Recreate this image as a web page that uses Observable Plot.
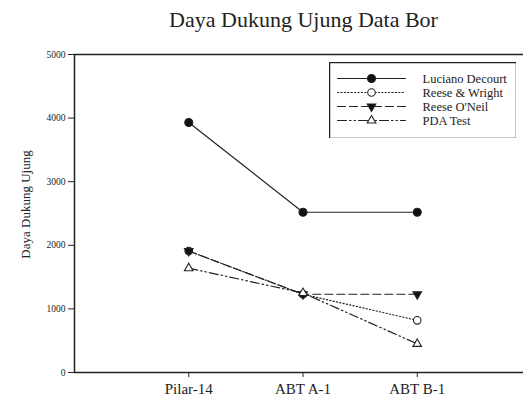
<!DOCTYPE html>
<html>
<head>
<meta charset="utf-8">
<script src="https://cdn.jsdelivr.net/npm/d3@7"></script>
<script src="https://cdn.jsdelivr.net/npm/@observablehq/plot@0.6"></script>
<style>
  html, body { margin: 0; padding: 0; background: #fff; overflow: hidden; width: 523px; height: 401px; }
  #wrap { position: relative; width: 523px; height: 401px; overflow: hidden; font-family: "Liberation Serif", "DejaVu Serif", serif; color: #222; }
  #title { height: 44px; box-sizing: border-box; padding-top: 7px; padding-left: 84px; text-align: center; font-size: 22px; line-height: normal; white-space: nowrap; }
  #legend { position: absolute; left: 329px; top: 62px; }
  svg { display: block; max-width: none !important; }
  svg, svg text, svg g { font-family: "Liberation Serif", "DejaVu Serif", serif !important; }
</style>
</head>
<body>
<div id="wrap">
  <div id="title">Daya Dukung Ujung Data Bor</div>
  <div id="chart"></div>
  <div id="legend"></div>
</div>
<script>
// ---- data ----
const categories = ["Pilar-14", "ABT A-1", "ABT B-1"];
const lucianoDecourt = [3930, 2520, 2520];
const reeseWright = [1910, 1230, 820];
const reeseONeil = [1910, 1230, 1230];
const pdaTest = [1640, 1250, 450];
const seriesNames = ["Luciano Decourt", "Reese & Wright", "Reese O'Neil", "PDA Test"];
const yTicks = [0, 1000, 2000, 3000, 4000, 5000];
const yLabel = "Daya Dukung Ujung";

// ---- build table ----
const seriesValues = [lucianoDecourt, reeseWright, reeseONeil, pdaTest];
const rows = seriesNames.flatMap((name, s) =>
  categories.map((cat, i) => ({ series: name, cat, idx: i + 1, value: seriesValues[s][i] }))
);

const serif = '"Liberation Serif", serif';

// custom downward triangle symbol
const triangleDown = {
  draw(context, size) {
    const y = -Math.sqrt(size / (Math.sqrt(3) * 3));
    context.moveTo(0, -y * 2);
    context.lineTo(-Math.sqrt(3) * y, y);
    context.lineTo(Math.sqrt(3) * y, y);
    context.closePath();
  }
};

const styles = {
  "Luciano Decourt": { dash: null, symbol: "circle", fill: "#111", r: 4 },
  "Reese & Wright": { dash: "1.2 2.2", symbol: "circle", fill: "white", r: 3.8 },
  "Reese O'Neil": { dash: "8 4", symbol: triangleDown, fill: "#111", r: 3.2 },
  "PDA Test": { dash: "9 3 1.5 3 1.5 3", symbol: "triangle", fill: "white", r: 3.2 }
};
const ink = "#222";

function seriesMarks(data, xKey, yKey) {
  const marks = [];
  for (const name of seriesNames) {
    const st = styles[name];
    const d = data.filter(r => r.series === name);
    marks.push(Plot.line(d, {
      x: xKey, y: yKey, stroke: ink, strokeWidth: 1.2,
      strokeDasharray: st.dash ?? undefined
    }));
  }
  const order = ["Reese & Wright", "Reese O'Neil", "Luciano Decourt", "PDA Test"];
  for (const name of order) {
    const st = styles[name];
    const d = data.filter(r => r.series === name);
    marks.push(Plot.dot(d, {
      x: xKey, y: yKey, symbol: () => st.symbol, r: st.r,
      fill: name === "Reese & Wright"
        ? (r => (r.cat === "ABT B-1" ? "white" : "#111"))
        : st.fill,
      stroke: ink, strokeWidth: 1.1
    }));
  }
  return marks;
}

const chart = Plot.plot({
  width: 540,
  height: 357,
  marginLeft: 74,
  marginRight: 9,
  marginTop: 10,
  marginBottom: 29,
  style: { fontFamily: serif, color: ink, background: "white", overflow: "visible", maxWidth: "none" },
  x: { type: "linear", domain: [0, 4] },
  y: { domain: [0, 5000] },
  symbol: { type: "identity" },
  marks: [
    Plot.frame({ stroke: ink, strokeWidth: 1.5 }),
    Plot.axisY({ ticks: yTicks, tickSize: 6, tickPadding: 3, fontSize: 9.5, fontFamily: serif, label: null, tickFormat: d => String(d) }),
    Plot.axisX({ ticks: [1, 2, 3], tickSize: 5, tickPadding: 6, fontSize: 15, fontFamily: serif, label: null, tickFormat: i => categories[i - 1] }),
    Plot.text([yLabel], { text: d => d, frameAnchor: "left", dx: -49, dy: -9, rotate: -90, fontSize: 13, fontFamily: serif, textAnchor: "middle", lineAnchor: "middle", fill: ink }),
    ...seriesMarks(rows, "idx", "value")
  ]
});
document.getElementById("chart").appendChild(chart);

// ---- legend (its own small Plot) ----
const legendRows = seriesNames.flatMap(name => [
  { series: name, lx: 0, ly: name },
  { series: name, lx: 1, ly: name }
]);
const legendMarks = [];
for (const name of seriesNames) {
  const st = styles[name];
  legendMarks.push(Plot.line(legendRows.filter(r => r.series === name), {
    x: "lx", y: "ly", stroke: ink, strokeWidth: 1.2, strokeDasharray: st.dash ?? undefined
  }));
  legendMarks.push(Plot.dot([{ lx: 0.5, ly: name }], {
    x: "lx", y: "ly", symbol: () => st.symbol, r: st.r, fill: st.fill, stroke: ink, strokeWidth: 1.1
  }));
}
const legend = Plot.plot({
  width: 187, height: 76,
  margin: 0,
  style: { fontFamily: serif, color: ink, background: "white", maxWidth: "none" },
  x: { domain: [0, 1], range: [8, 76], axis: null },
  y: { type: "point", domain: seriesNames, range: [15.5, 59], padding: 0, axis: null },
  symbol: { type: "identity" },
  marks: [
    Plot.frame({ stroke: ink, strokeWidth: 1.5 }),
    ...legendMarks,
    Plot.text(seriesNames, { x: () => 1, y: d => d, text: d => d, dx: 17, textAnchor: "start", lineAnchor: "middle", fontSize: 12.5, fontFamily: serif, fill: ink })
  ]
});
document.getElementById("legend").appendChild(legend);
</script>
</body>
</html>
